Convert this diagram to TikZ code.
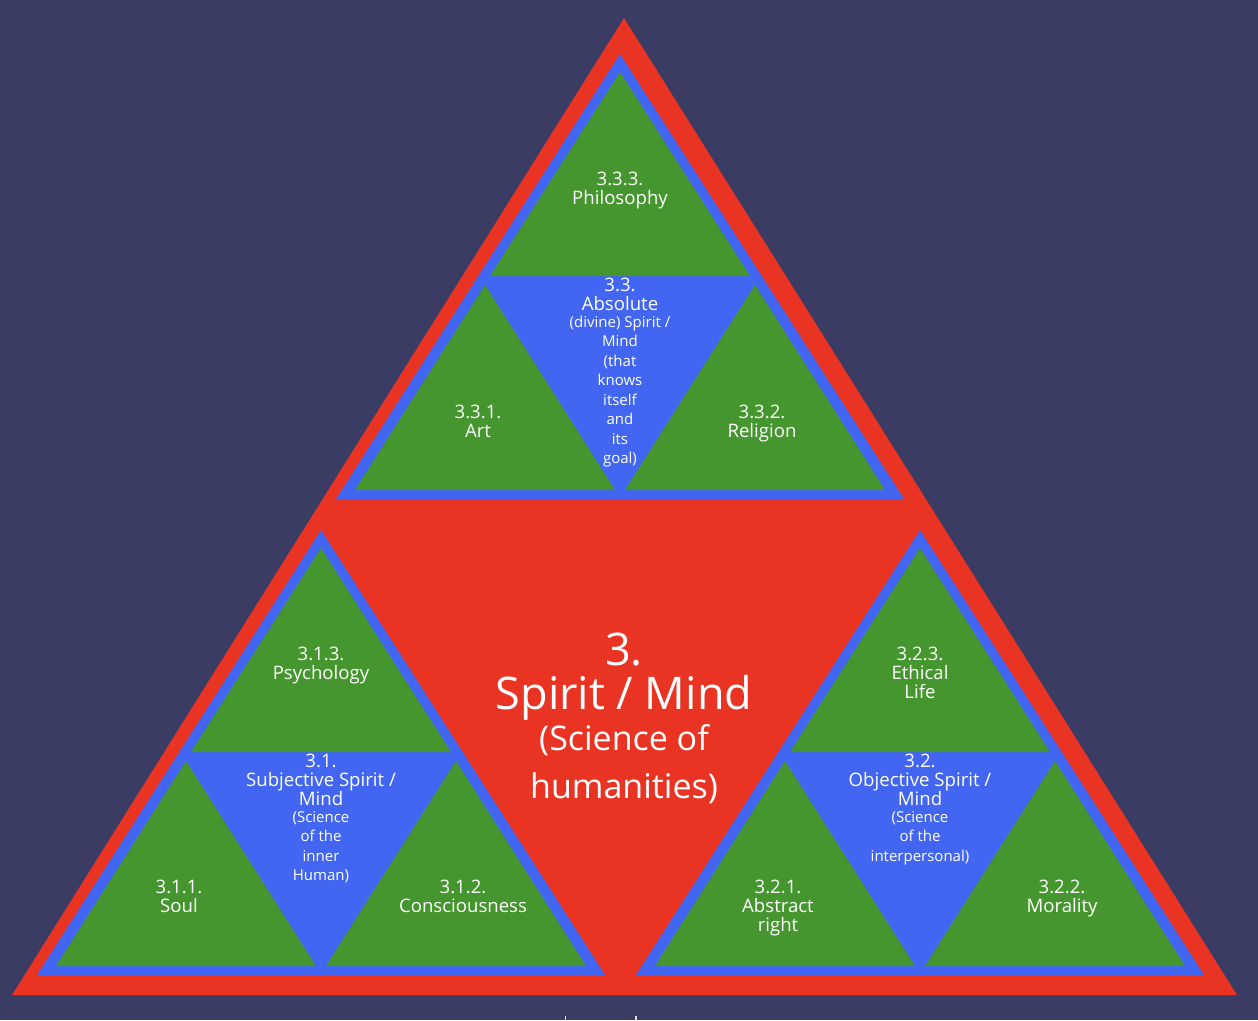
\documentclass[tikz,border=0pt]{standalone}
\usepackage{fontspec}
\setmainfont{Open Sans}
\definecolor{bgc}{HTML}{3B3C63}
\definecolor{redc}{HTML}{E93323}
\definecolor{bluec}{HTML}{4266F1}
\definecolor{greenc}{HTML}{45962E}
\newcommand\fsz[1]{\fontsize{#1}{#1}\selectfont}
\newcommand\subtri[2]{%
  \fill[bluec] (#1,#2) -- ++(-284,445) -- ++(568,0) -- cycle;
  \fill[greenc] (#1,#2+18) -- ++(-130,204) -- ++(260,0) -- cycle;
  \fill[greenc] (#1-135,#2+231) -- ++(-130,205) -- ++(260,0) -- cycle;
  \fill[greenc] (#1+135,#2+231) -- ++(-130,205) -- ++(260,0) -- cycle;
}
\tikzset{
  lbl/.style={anchor=base, inner sep=0pt, text=white, font=\fsz{18.6}},
  sml/.style={anchor=base, inner sep=0pt, text=white, font=\fsz{15}},
  big/.style={anchor=base, inner sep=0pt, text=white, font=\fsz{45}},
  mid/.style={anchor=base, inner sep=0pt, text=white, font=\fsz{34}}
}
\begin{document}
\begin{tikzpicture}[x=1pt,y=-1pt]
\useasboundingbox (0,0) rectangle (1258,1020);
\fill[bgc] (0,0) rectangle (1258,1020);
\fill[redc] (624,18) -- (1237,995) -- (12,995) -- cycle;
\subtri{620}{54}
\subtri{321}{530}
\subtri{920}{530}
% small cut-off marks at the bottom
\fill[white!85!bgc] (564.5,1016) rectangle (566,1020);
\fill[white!85!bgc] (635,1016) rectangle (636.5,1020);
% centre
\node[big] (c1) at (624,665) {3.};
\node[big] (c2) at (624,709) {Spirit / Mind};
\node[mid] (c3) at (624,750) {(Science of};
\node[mid] (c4) at (624,798) {humanities)};
% top group
\node[lbl] (a1) at (620,185) {3.3.3.};
\node[lbl] (a2) at (620,204) {Philosophy};
\node[lbl] (b1) at (620,291) {3.3.};
\node[lbl] (b2) at (620,310) {Absolute};
\node[sml] (b3) at (620,327) {(divine) Spirit /};
\node[sml] (b4) at (620,346.5) {Mind};
\node[sml] (b5) at (620,366) {(that};
\node[sml] (b6) at (620,385.5) {knows};
\node[sml] (b7) at (620,405) {itself};
\node[sml] (b8) at (620,424.5) {and};
\node[sml] (b9) at (620,444) {its};
\node[sml] (b10) at (620,463.5) {goal)};
\node[lbl] (d1) at (478,418) {3.3.1.};
\node[lbl] (d2) at (478,437) {Art};
\node[lbl] (e1) at (762,418) {3.3.2.};
\node[lbl] (e2) at (762,437) {Religion};
% left group
\node[lbl] (f1) at (321,660) {3.1.3.};
\node[lbl] (f2) at (321,679) {Psychology};
\node[lbl] (g1) at (321,767) {3.1.};
\node[lbl] (g2) at (321,786) {Subjective Spirit /};
\node[lbl] (g3) at (321,805) {Mind};
\node[sml] (g4) at (321,822) {(Science};
\node[sml] (g5) at (321,841.5) {of the};
\node[sml] (g6) at (321,861) {inner};
\node[sml] (g7) at (321,880.5) {Human)};
\node[lbl] (h1) at (179,893) {3.1.1.};
\node[lbl] (h2) at (179,912) {Soul};
\node[lbl] (i1) at (463,893) {3.1.2.};
\node[lbl] (i2) at (463,912) {Consciousness};
% right group
\node[lbl] (j1) at (920,660) {3.2.3.};
\node[lbl] (j2) at (920,679) {Ethical};
\node[lbl] (j3) at (920,698) {Life};
\node[lbl] (k1) at (920,767) {3.2.};
\node[lbl] (k2) at (920,786) {Objective Spirit /};
\node[lbl] (k3) at (920,805) {Mind};
\node[sml] (k4) at (920,822) {(Science};
\node[sml] (k5) at (920,841.5) {of the};
\node[sml] (k6) at (920,861) {interpersonal)};
\node[lbl] (l1) at (778,893) {3.2.1.};
\node[lbl] (l2) at (778,912) {Abstract};
\node[lbl] (l3) at (778,931) {right};
\node[lbl] (m1) at (1062,893) {3.2.2.};
\node[lbl] (m2) at (1062,912) {Morality};
\end{tikzpicture}
\end{document}
